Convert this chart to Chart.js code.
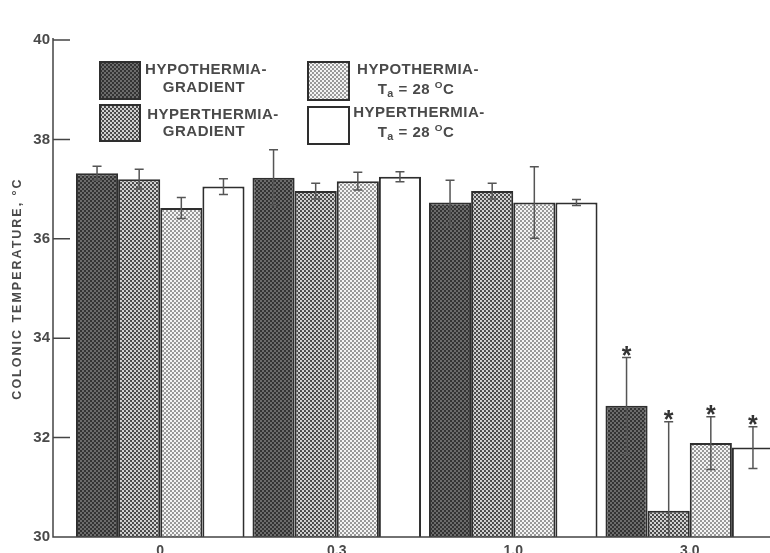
<!DOCTYPE html>
<html>
<head>
<meta charset="utf-8">
<script src="https://cdn.jsdelivr.net/npm/chart.js@4.4.0/dist/chart.umd.min.js"></script>
<style>
  html,body{margin:0;padding:0;background:#fff;overflow:hidden}
  #wrap{position:relative;width:778px;height:553px}
</style>
</head>
<body>
<div id="wrap"><canvas id="chart" width="778" height="553"></canvas></div>
<script>
/* ---------- 1.  Data ------------------------------------- */
const doses        = ["0", "0.3", "1.0", "3.0"];
const hypoGradient = [37.32, 37.23, 36.73, 32.64];
const hypoGradErr  = [0.14, 0.56, 0.45, 0.97];
const hyperGradient= [37.20, 36.96, 36.96, 30.53];
const hyperGradErr = [0.20, 0.16, 0.16, 1.79];
const hypoTa28     = [36.62, 37.16, 36.73, 31.89];
const hypoTa28Err  = [0.21, 0.18, 0.72, 0.53];
const hyperTa28    = [37.05, 37.25, 36.73, 31.80];
const hyperTa28Err = [0.16, 0.10, 0.06, 0.42];
const significant  = [false, false, false, true];   // asterisks
const yTicks       = [30, 32, 34, 36, 38, 40];
const yTitle       = "COLONIC TEMPERATURE, °C";
const legendNames  = [
  ["HYPOTHERMIA-", "GRADIENT"],
  ["HYPERTHERMIA-", "GRADIENT"],
  ["HYPOTHERMIA-", "T_a = 28 ^OC"],
  ["HYPERTHERMIA-", "T_a = 28 ^OC"]
];

/* ---------- 2.  Halftone patterns ------------------------ */
function dots(bg, fg, r) {
  const c = document.createElement("canvas"); c.width = c.height = 4;
  const x = c.getContext("2d");
  x.fillStyle = bg; x.fillRect(0, 0, 4, 4);
  if (fg) {
    x.fillStyle = fg;
    [[1, 1], [3, 3]].forEach(([a, b]) => { x.beginPath(); x.arc(a, b, r, 0, 2*Math.PI); x.fill(); });
  }
  return x.createPattern(c, "repeat");
}
const fills = [
  dots("#333333", "#858585", 0.95),
  dots("#444444", "#d8d8d8", 1.15),
  dots("#f4f4f4", "#727272", 0.95),
  "#ffffff"
];
const INK = "#2e2e2e", TXT = "#4a4a4a";
const AXIS_X = 53;

/* ---------- 3.  Plugins ---------------------------------- */
function drawRich(ctx, str, cx, y, size) {
  const parts = str.match(/_\w|\^\w|[^_^]+/g);
  const seg = parts.map(p => p[0] === "_" ? {t: p[1], s: size*0.72, dy: 4}
                          : p[0] === "^" ? {t: p[1], s: size*0.66, dy: -5}
                          : {t: p, s: size, dy: 0});
  let w = 0;
  seg.forEach(g => { ctx.font = `bold ${g.s}px "Liberation Sans"`; g.w = ctx.measureText(g.t).width; w += g.w; });
  let x = cx - w/2;
  seg.forEach(g => { ctx.font = `bold ${g.s}px "Liberation Sans"`; ctx.fillText(g.t, x, y + g.dy); x += g.w; });
}

const legendPlugin = {
  id: "boxLegend",
  afterDraw(chart) {
    const ctx = chart.ctx;
    const boxes = [
      {x: 100, y: 62,  w: 40, h: 37, tx: [206, 204], ty: [70, 88]},
      {x: 100, y: 105, w: 40, h: 36, tx: [213, 204], ty: [115, 132]},
      {x: 308, y: 62,  w: 41, h: 38, tx: [418, 416], ty: [70, 90]},
      {x: 308, y: 107, w: 41, h: 37, tx: [419, 416], ty: [113, 133]}
    ];
    ctx.save();
    boxes.forEach((b, i) => {
      ctx.fillStyle = fills[i]; ctx.fillRect(b.x, b.y, b.w, b.h);
      ctx.strokeStyle = INK; ctx.lineWidth = 2; ctx.strokeRect(b.x, b.y, b.w, b.h);
      ctx.fillStyle = TXT; ctx.textBaseline = "middle"; ctx.textAlign = "left";
      if ("letterSpacing" in ctx) ctx.letterSpacing = "0.5px";
      legendNames[i].forEach((ln, k) => drawRich(ctx, ln, b.tx[k], b.ty[k], 15));
    });
    ctx.restore();
  }
};

const errorPlugin = {
  id: "errorBars",
  afterDatasetsDraw(chart) {
    const {ctx, scales: {y}} = chart;
    const errs = [hypoGradErr, hyperGradErr, hypoTa28Err, hyperTa28Err];
    ctx.save();
    ctx.strokeStyle = "#555"; ctx.lineWidth = 1.5;
    chart.data.datasets.forEach((ds, i) => {
      chart.getDatasetMeta(i).data.forEach((bar, j) => {
        const v = ds.data[j], e = errs[i][j];
        const hi = y.getPixelForValue(v + e), lo = y.getPixelForValue(Math.max(v - e, 30));
        ctx.beginPath();
        ctx.moveTo(bar.x, hi); ctx.lineTo(bar.x, lo);
        ctx.moveTo(bar.x - 4.5, hi); ctx.lineTo(bar.x + 4.5, hi);
        if (v - e > 30) { ctx.moveTo(bar.x - 4.5, lo); ctx.lineTo(bar.x + 4.5, lo); }
        ctx.stroke();
        if (significant[j]) {
          ctx.fillStyle = "#333"; ctx.textAlign = "center"; ctx.textBaseline = "alphabetic";
          ctx.font = 'bold 25px "Liberation Sans"';
          ctx.fillText("*", bar.x, hi + 6);
        }
      });
    });
    ctx.restore();
  }
};

const axesPlugin = {
  id: "axes",
  afterDraw(chart) {
    const {ctx, chartArea: a, scales: {y}} = chart;
    ctx.save();
    ctx.strokeStyle = "#444"; ctx.lineWidth = 1.5;
    ctx.beginPath();
    ctx.moveTo(AXIS_X, y.getPixelForValue(40) - 2); ctx.lineTo(AXIS_X, a.bottom);
    ctx.lineTo(chart.width, a.bottom);
    yTicks.forEach(t => { const p = y.getPixelForValue(t); ctx.moveTo(AXIS_X, p); ctx.lineTo(AXIS_X + 17, p); });
    ctx.stroke();
    // rotated axis title
    ctx.translate(18, (a.top + a.bottom) / 2); ctx.rotate(-Math.PI / 2);
    ctx.fillStyle = TXT; ctx.textAlign = "center"; ctx.textBaseline = "middle";
    ctx.font = 'bold 12.5px "Liberation Sans"';
    if ("letterSpacing" in ctx) ctx.letterSpacing = "2px";
    ctx.fillText(yTitle, 0, 0);
    ctx.restore();
  }
};

/* ---------- 4.  Chart ------------------------------------ */
Chart.defaults.font.family = '"Liberation Sans", Arial, sans-serif';
const series = [hypoGradient, hyperGradient, hypoTa28, hyperTa28];

new Chart(document.getElementById("chart"), {
  type: "bar",
  data: {
    labels: doses,
    datasets: series.map((d, i) => ({
      label: legendNames[i].join(" "),
      data: d,
      backgroundColor: fills[i],
      borderColor: INK,
      borderWidth: 2,
      categoryPercentage: 0.955,
      barPercentage: 1
    }))
  },
  options: {
    responsive: false,
    animation: false,
    devicePixelRatio: 1,
    layout: {padding: {top: 40, right: 0, bottom: 0, left: 0}},
    plugins: {legend: {display: false}, tooltip: {enabled: false}},
    scales: {
      x: {
        grid: {display: false, drawTicks: false},
        border: {display: false},
        ticks: {color: TXT, font: {size: 14, weight: "bold"}, padding: 6},
        afterFit: s => { s.height = 16; }
      },
      y: {
        min: 30, max: 40,
        grid: {display: false, drawTicks: false},
        border: {display: false},
        afterBuildTicks: s => { s.ticks = yTicks.map(v => ({value: v})); },
        ticks: {color: TXT, font: {size: 15, weight: "bold"}, padding: 22},
        afterFit: s => { s.width = 72; s.paddingTop = 0; s.paddingBottom = 0; }
      }
    }
  },
  plugins: [errorPlugin, axesPlugin, legendPlugin]
});
</script>
</body>
</html>
